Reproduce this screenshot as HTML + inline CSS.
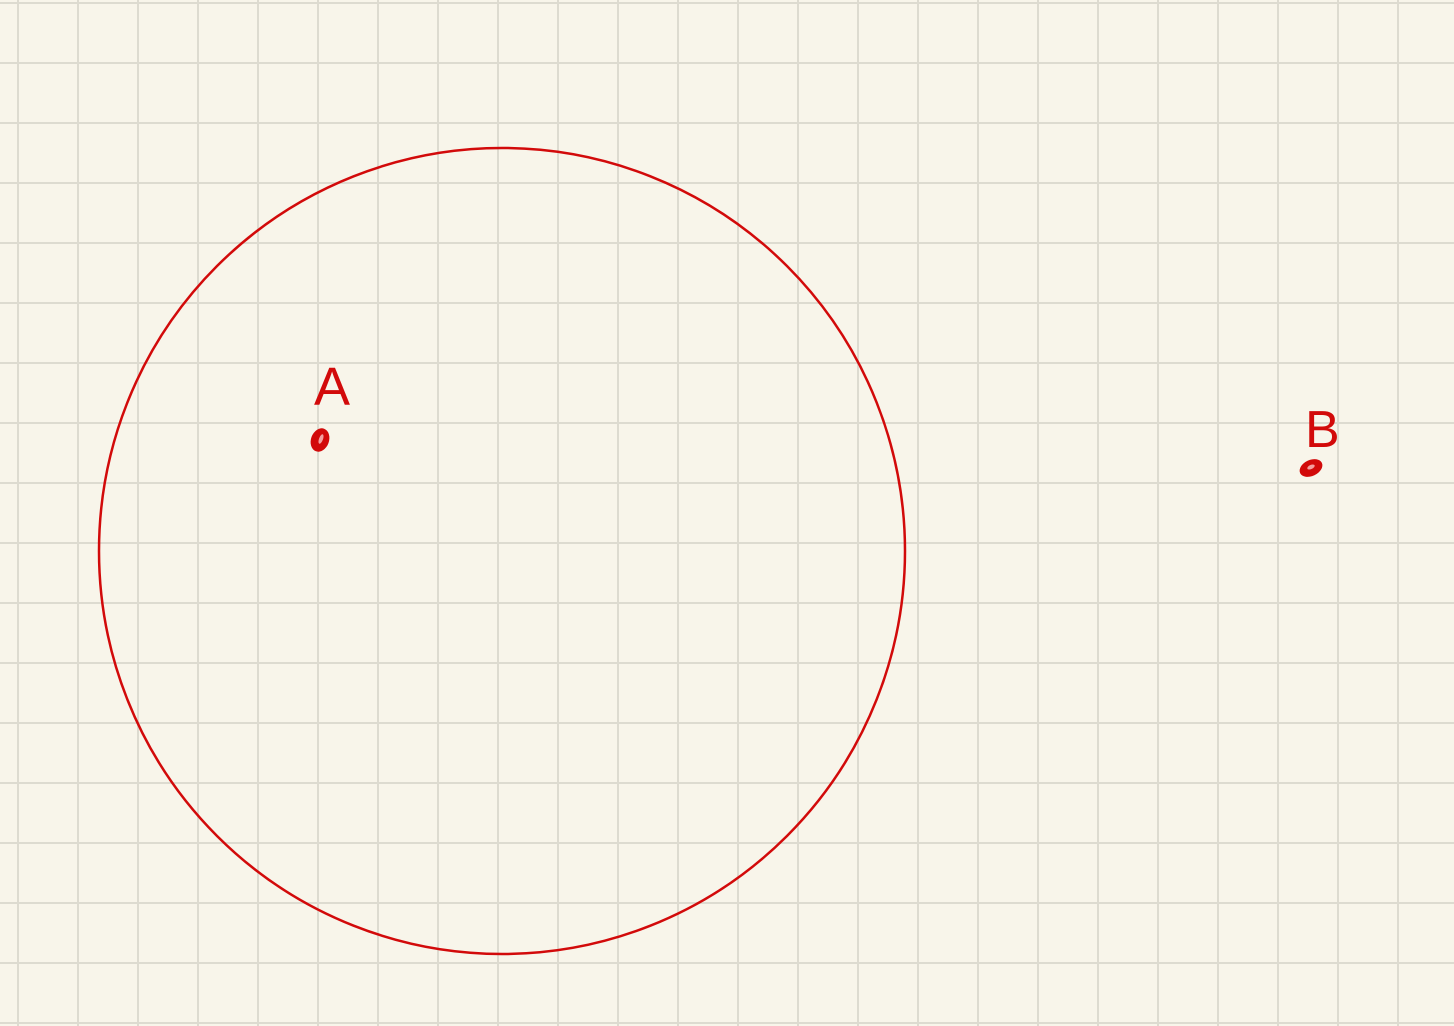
<!DOCTYPE html>
<html>
<head>
<meta charset="utf-8">
<style>
  html,body{margin:0;padding:0;background:#f8f5ea;}
  svg{display:block;}
</style>
</head>
<body>
<svg id="sheet" width="1454" height="1026" viewBox="0 0 1454 1026" xmlns="http://www.w3.org/2000/svg">
  <rect x="0" y="0" width="1454" height="1026" fill="#f8f5ea"/>
  <g id="grid"></g>
  <circle cx="502" cy="551" r="403" fill="none" stroke="#d20a0a" stroke-width="2.5"/>
  <text x="314" y="405" font-family="Liberation Sans, sans-serif" font-size="54" fill="#d20a0a" font-weight="normal">A</text>
  <ellipse cx="320" cy="440" rx="9" ry="12" transform="rotate(20 320 440)" fill="#d20a0a"/>
  <ellipse cx="321" cy="439" rx="2" ry="5" transform="rotate(20 321 439)" fill="#f3a0a0"/>
  <text x="1305" y="447" font-family="Liberation Sans, sans-serif" font-size="52" fill="#d20a0a">B</text>
  <ellipse cx="1311" cy="468" rx="12" ry="8" transform="rotate(-25 1311 468)" fill="#d20a0a"/>
  <ellipse cx="1311" cy="467" rx="4" ry="2" transform="rotate(-25 1311 467)" fill="#f3a0a0"/>
</svg>
<script>
  const gridStart = [18, 3];
  const gridStep = 60;
  const g = document.getElementById('grid');
  const NS = 'http://www.w3.org/2000/svg';
  for (let x = gridStart[0]; x < 1454; x += gridStep) {
    const l = document.createElementNS(NS, 'line');
    l.setAttribute('x1', x); l.setAttribute('x2', x);
    l.setAttribute('y1', 0); l.setAttribute('y2', 1026);
    l.setAttribute('stroke', '#dddbd0'); l.setAttribute('stroke-width', '2');
    
    
    g.appendChild(l);
  }
  for (let y = gridStart[1]; y < 1026; y += gridStep) {
    const l = document.createElementNS(NS, 'line');
    l.setAttribute('y1', y); l.setAttribute('y2', y);
    l.setAttribute('x1', 0); l.setAttribute('x2', 1454);
    l.setAttribute('stroke', '#dddbd0'); l.setAttribute('stroke-width', '2');
    
    
    g.appendChild(l);
  }
</script>
</body>
</html>
